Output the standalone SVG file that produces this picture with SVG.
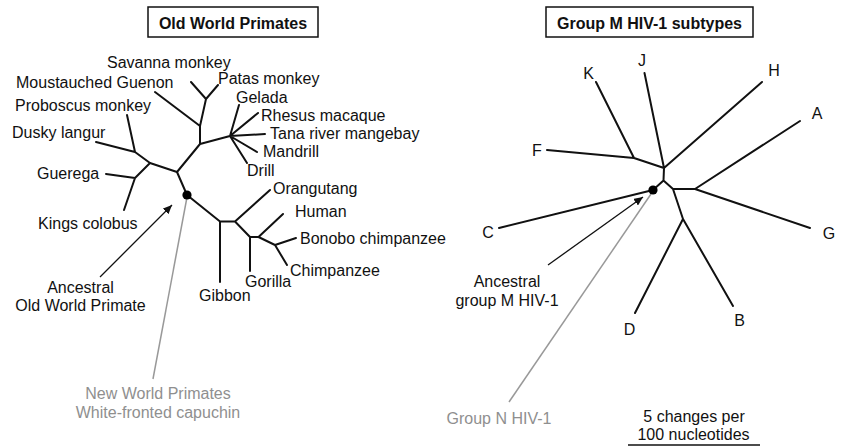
<svg xmlns="http://www.w3.org/2000/svg" width="842" height="446" viewBox="0 0 842 446">
<style>
text{font-family:"Liberation Sans",Arial,Helvetica,sans-serif;font-size:16px;fill:#111}
.t{font-weight:bold}
.g{fill:#8f8f8f}
.m{text-anchor:middle}
.e{fill:none;stroke:#111;stroke-width:2;stroke-linecap:round;stroke-linejoin:round}
.gl{fill:none;stroke:#999;stroke-width:1.5}
.ar{fill:none;stroke:#111;stroke-width:1.3}
.box{fill:#fff;stroke:#111;stroke-width:1.5}
</style>
<defs>
<marker id="ah" markerUnits="userSpaceOnUse" markerWidth="10" markerHeight="8" refX="9" refY="4" orient="auto">
<path d="M0,0 L9,4 L0,8 Z" fill="#111"/>
</marker>
</defs>
<rect width="842" height="446" fill="#fff"/>

<g id="title-left"><rect class="box" x="148" y="7" width="170" height="30"/><text class="t m" x="233" y="28.5">Old World Primates</text></g>
<g id="title-right"><rect class="box" x="546" y="7" width="207" height="30"/><text class="t m" x="649.5" y="28.5">Group M HIV-1 subtypes</text></g>

<g id="connectors">
<path class="e" d="M187,195 L177,172 L150,163 L135,152 M150,163 L135,178 L106,174 M135,178 L124,210 M135,152 L96,142 M135,152 L127,115"/>
<path class="e" d="M177,172 L200,144 L200,126 L155,92 M200,126 L206,99 L191,82 M206,99 L218,85 M200,144 L230,136 L239,105 M230,136 L258,113 M230,136 L265,134 M230,136 L257,152 M230,136 L247,163"/>
<path class="e" d="M187,195 L220,221.5 L235,221.5 L270,190 M220,221.5 L220,282 M235,221.5 L250,237 L250,271 M250,237 L258.5,237 L283,214 M258.5,237 L275,245 L296,238 M275,245 L287,265"/>
<path class="e" d="M653,190 L663.5,180.5 L664,168 L634,158 L596,82 M634,158 L547,150 M664,168 L644.5,73 M664,168 L762,82 M663.5,180.5 L673,189 L695,189 L800,121 M695,189 L810,228 M673,189 L683,219 L635,313 M683,219 L733,306 M653,190 L499,228"/>
<line class="gl" x1="153" y1="379" x2="187" y2="197"/>
<line class="gl" x1="509" y1="402" x2="651" y2="194"/>
<line class="ar" x1="100" y1="277" x2="172" y2="205" marker-end="url(#ah)"/>
<line class="ar" x1="548" y1="265" x2="643" y2="197" marker-end="url(#ah)"/>
<line x1="628" y1="445" x2="760" y2="445" stroke="#111" stroke-width="1.3"/>
</g>

<g id="anc-owp"><circle cx="187" cy="195" r="4.6" fill="#000"/></g>
<g id="anc-hiv"><circle cx="653" cy="190" r="4.6" fill="#000"/></g>

<g id="savanna"><text x="107" y="67.5">Savanna monkey</text></g>
<g id="patas"><text x="218" y="83.5">Patas monkey</text></g>
<g id="moustauched"><text x="16" y="87.5">Moustauched Guenon</text></g>
<g id="gelada"><text x="236" y="103">Gelada</text></g>
<g id="proboscus"><text x="15" y="110.5">Proboscus monkey</text></g>
<g id="rhesus"><text x="261" y="120.5">Rhesus macaque</text></g>
<g id="dusky"><text x="12" y="137.5">Dusky langur</text></g>
<g id="tana"><text x="270" y="139">Tana river mangebay</text></g>
<g id="mandrill"><text x="263" y="156.5">Mandrill</text></g>
<g id="drill"><text x="247" y="176">Drill</text></g>
<g id="guerega"><text x="37" y="179">Guerega</text></g>
<g id="orangutang"><text x="273" y="194">Orangutang</text></g>
<g id="human"><text x="295" y="217">Human</text></g>
<g id="kings"><text x="38" y="229">Kings colobus</text></g>
<g id="bonobo"><text x="300" y="244">Bonobo chimpanzee</text></g>
<g id="chimp"><text x="290" y="275.5">Chimpanzee</text></g>
<g id="gorilla"><text x="245" y="286.5">Gorilla</text></g>
<g id="gibbon"><text x="199" y="301">Gibbon</text></g>
<g id="label-anc-owp"><text class="m" x="80.5" y="292.5">Ancestral</text><text class="m" x="80.5" y="311">Old World Primate</text></g>
<g id="label-nwp"><text class="m g" x="158" y="399">New World Primates</text><text class="m g" x="158" y="417.5">White-fronted capuchin</text></g>

<g id="K"><text class="m" x="588.5" y="78.5">K</text></g>
<g id="J"><text class="m" x="642" y="66">J</text></g>
<g id="H"><text class="m" x="774" y="76">H</text></g>
<g id="A"><text class="m" x="817" y="118.5">A</text></g>
<g id="F"><text class="m" x="537" y="156">F</text></g>
<g id="C"><text class="m" x="488" y="238">C</text></g>
<g id="G"><text class="m" x="829" y="239">G</text></g>
<g id="D"><text class="m" x="629.5" y="335">D</text></g>
<g id="B"><text class="m" x="739.5" y="326">B</text></g>
<g id="label-anc-hiv"><text class="m" x="507" y="287">Ancestral</text><text class="m" x="507" y="305.5">group M HIV-1</text></g>
<g id="label-groupN"><text class="m g" x="499" y="424">Group N HIV-1</text></g>
<g id="scale"><text class="m" x="694" y="421.5">5 changes per</text><text class="m" x="693.5" y="439.5">100 nucleotides</text></g>
</svg>
